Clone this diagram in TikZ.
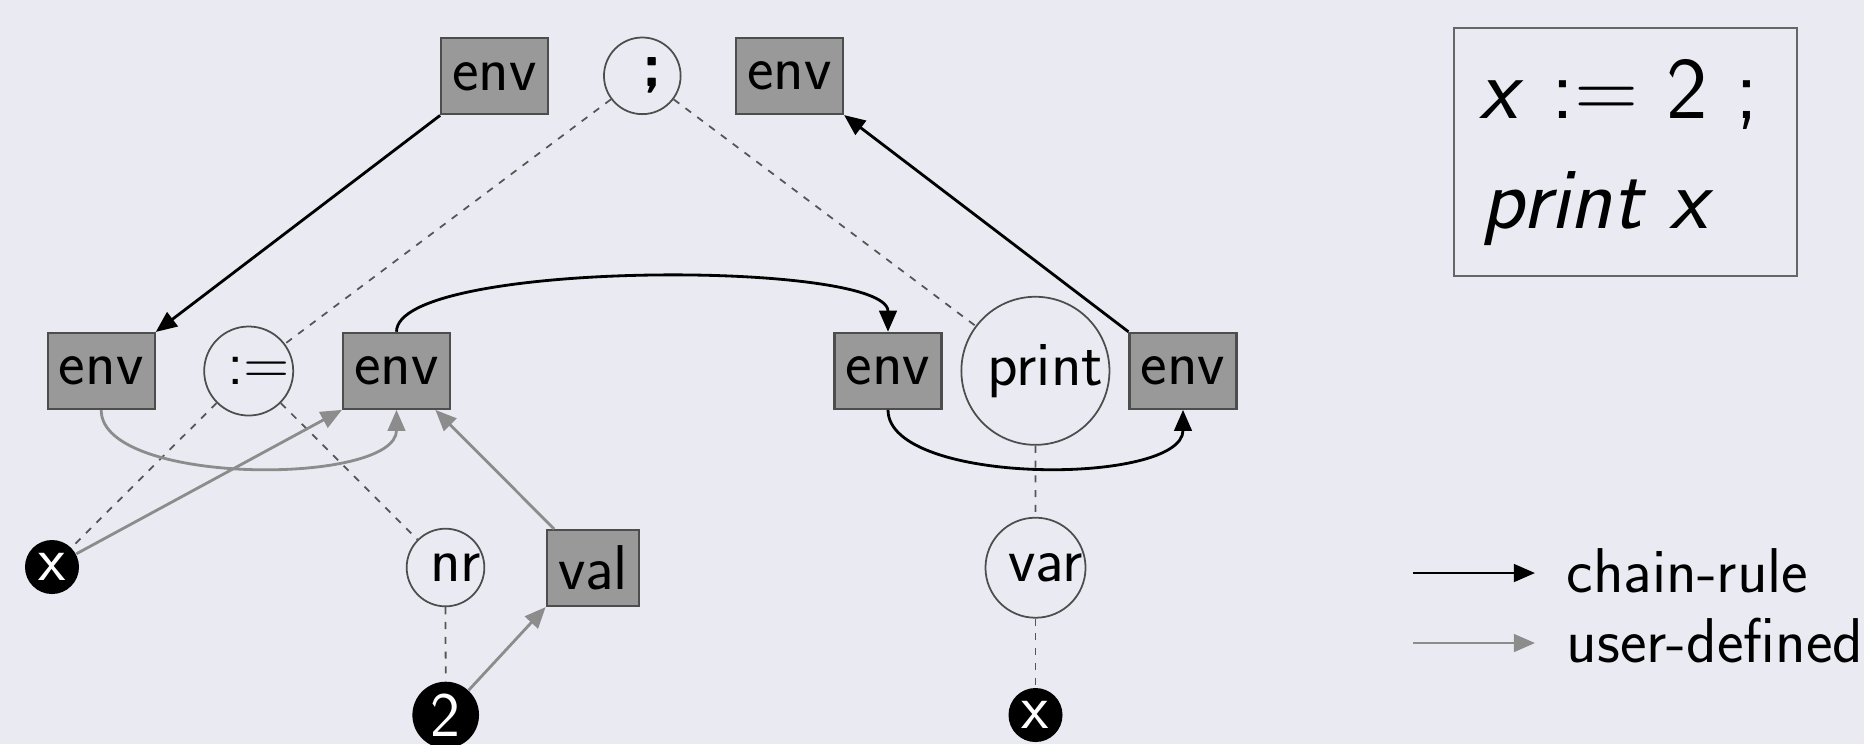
\documentclass[tikz,border=0pt]{standalone}
\usepackage{fontspec}
\usetikzlibrary{arrows.meta}
\definecolor{bg}{HTML}{EAEAF2}
\definecolor{boxfill}{HTML}{999999}
\definecolor{boxline}{HTML}{4D4D4D}
\definecolor{usergray}{HTML}{8C8C8C}
\definecolor{dashgray}{HTML}{555555}
\definecolor{codeline}{HTML}{666666}
\newcommand\ctext[1]{\makebox[0pt]{\hspace{0.2cm}#1}}
\begin{document}
\begin{tikzpicture}[x=0.01cm,y=-0.01cm,
  every node/.style={font=\fontsize{18}{21}\selectfont\sffamily},
  envbox/.style={draw=boxline, fill=boxfill, line width=0.6pt, minimum width=1.07cm, minimum height=0.76cm, inner sep=0pt},
  opcirc/.style={circle, draw=boxline, line width=0.5pt, inner sep=0pt},
  leaf/.style={circle, fill=black, text=white, inner sep=0pt},
  tree/.style={dashgray, line width=0.5pt, dash pattern=on 2pt off 2.2pt},
  chain/.style={black, line width=0.8pt, -{Triangle[length=6pt,width=5pt]}},
  user/.style={usergray, line width=0.8pt, -{Triangle[length=6pt,width=5pt]}},
  legtext/.style={anchor=base west, inner sep=0pt},
  codetext/.style={anchor=base west, inner sep=0pt, font=\fontsize{25}{30}\selectfont\sffamily},
]
\fill[bg] (0,0) rectangle (1864,744);
\useasboundingbox (0,0) rectangle (1864,744);

% tree nodes
\node[envbox] (envTL) at (494.7,76.3) {env};
\node[opcirc, minimum size=0.766cm] (semi) at (642.3,75.8) {\ctext{\textbf{;}}};
\node[envbox] (envTR) at (789.5,76) {env};
\node[envbox] (env1) at (101.2,371) {env};
\node[opcirc, minimum size=0.89cm] (assign) at (248.7,371) {\ctext{:=}};
\node[envbox] (env2) at (396.5,370.8) {env};
\node[envbox] (env3) at (888,370.8) {env};
\node[opcirc, minimum size=1.48cm] (print) at (1035.4,370.8) {\ctext{print}};
\node[envbox] (env4) at (1183,370.8) {env};
\node[leaf, minimum size=0.54cm] (x1) at (52,567) {x};
\node[opcirc, minimum size=0.776cm] (nr) at (445.5,567.5) {\ctext{nr}};
\node[envbox, minimum width=0.926cm] (val) at (593,568) {val};
\node[leaf, minimum size=0.666cm] (two) at (445.7,715) {2};
\node[opcirc, minimum size=1.0cm] (var) at (1035.5,567.7) {\ctext{var}};
\node[leaf, minimum size=0.54cm] (x2) at (1035.5,715) {x};

% syntax tree edges
\draw[tree] (semi) -- (assign);
\draw[tree] (semi) -- (print);
\draw[tree] (assign) -- (x1);
\draw[tree] (assign) -- (nr);
\draw[tree] (nr) -- (two);
\draw[tree] (print) -- (var);
\draw[tree] (var) -- (x2);

% chain rule
\draw[chain] (envTL.south west) -- (env1.north east);
\draw[chain] (env4.north west) -- (envTR.south east);
\draw[chain] (env2.north) .. controls +(0,-72) and +(0,-72) .. (env3.north);
\draw[chain] (env3.south) .. controls +(0,76) and +(0,76) .. (env4.south);

% user defined
\draw[user] (env1.south) .. controls +(0,76) and +(0,76) .. (env2.south);
\draw[user] (x1) -- (env2.south west);
\draw[user] (val) -- (env2);
\draw[user] (two) -- (val.south west);

% code box
\node[draw=codeline, line width=0.6pt, minimum width=3.43cm, minimum height=2.48cm, inner sep=0pt] (codebox) at (1625.5,152) {};
\node[codetext] (line1) at (1479,118) {\textit{x} := 2 ;};
\node[codetext] (line2) at (1481,228) {\textit{print x}};

% legend
\coordinate (c1a) at (1413,573);
\coordinate (c1b) at (1535,573);
\draw[chain] (c1a) -- (c1b);
\node[legtext] (lchain) at (1566,592) {chain-rule};
\coordinate (u1a) at (1413,643);
\coordinate (u1b) at (1535,643);
\draw[user] (u1a) -- (u1b);
\node[legtext] (luser) at (1566,662) {user-defined};
\end{tikzpicture}
\end{document}
